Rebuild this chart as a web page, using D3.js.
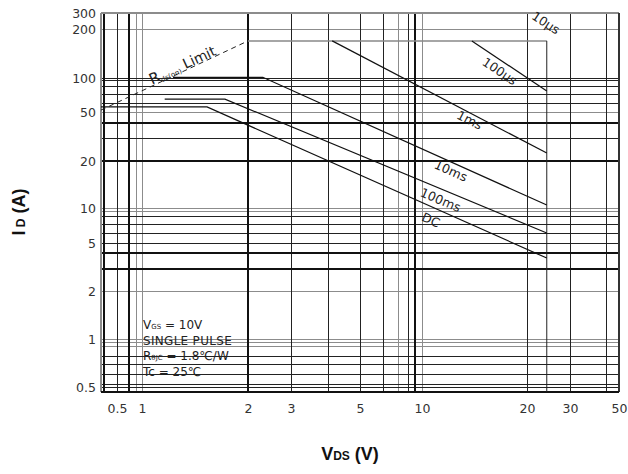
<!DOCTYPE html>
<html>
<head>
<meta charset="utf-8">
<script src="https://cdn.jsdelivr.net/npm/d3@7"></script>
<style>
  body { margin: 0; background: #fff; }
  svg text { font-family: "DejaVu Sans", sans-serif; }
</style>
</head>
<body>
<div class="chart"></div>
<script>
// tick stops of the scanned SOA chart (the scan's log spacing is stretched)
var xTicks = [0.5, 1, 2, 3, 5, 10, 20, 30, 50];
var yTicks = [0.5, 1, 2, 5, 10, 20, 50, 100, 200, 300];

// grid lines, grouped by pen
var xGridHeavy = [0.34, 0.7, 2, 9.26];
var xGridThin = [0.5, 3, 3.95, 5, 6.47, 8.56, 20, 30, 44];
var xGridGrey = [0.87, 1, 7.65, 10];
var yGridHeavy = [40.7, 20, 4.13, 3.04];
var yGridThin = [100, 94.1, 84.9, 72.1, 60, 30.2, 8.53, 7.28, 6.09, 5, 0.782, 0.687, 0.603, 0.522, 0.5];
var yGridGrey = [200, 50, 10, 9.24, 2, 1, 0.944, 0.891];

// SOA boundaries, [VDS, ID]
var rdsLimit = [[0.31, 52], [2, 169]];
var pkgLimit = [[2, 169], [24.1, 169]];
var edgeLimit = [[24.1, 169], [24.1, 0.466]];
var us100 = [[13.9, 169], [24.1, 76.7]];
var ms1 = [[4.07, 169], [24.1, 23.2]];
var ms10 = [[1.225, 101], [2.3, 101], [24.1, 10.45]];
var ms100 = [[1.16, 65], [1.72, 65], [24.1, 6.1]];
var dc = [[0.31, 55.4], [1.53, 55.4], [24.1, 3.75]];

// curve labels: text, VDS, ID, angle
var curveLabels = [
  ["10μs", 23.9, 233, 33],
  ["100μs", 16.7, 110, 34],
  ["1ms", 13.7, 43, 27],
  ["10ms", 12.1, 17.3, 24],
  ["100ms", 11.3, 11.25, 23],
  ["DC", 10.6, 7.88, 24]
];

var svgWidth = 628;
var svgHeight = 474;

var svg = d3.select(".chart")
  .append("svg")
  .attr("width", svgWidth)
  .attr("height", svgHeight);

var x = d3.scaleLog()
  .domain([0.31, 0.5, 1, 2, 3, 5, 10, 20, 30, 50])
  .range([101, 117, 142, 248, 291, 360, 422, 527, 570, 619]);

var y = d3.scaleLog()
  .domain([0.466, 0.5, 1, 2, 5, 10, 20, 50, 100, 200, 300])
  .range([392, 387, 339, 291, 243, 208, 161, 112, 78, 29, 13]);

var x0 = x(0.31), x1 = x(50), yTop = y(300), yBot = y(0.466);

var grid = svg.append("g").attr("shape-rendering", "crispEdges");

function vLines(vals, color, w) {
  grid.selectAll(null)
    .data(vals)
    .enter()
    .append("line")
    .attr("x1", d => x(d)).attr("x2", d => x(d))
    .attr("y1", yTop).attr("y2", yBot)
    .attr("stroke", color)
    .attr("stroke-width", w);
}
function hLines(vals, color, w) {
  grid.selectAll(null)
    .data(vals)
    .enter()
    .append("line")
    .attr("y1", d => y(d)).attr("y2", d => y(d))
    .attr("x1", x0).attr("x2", x1)
    .attr("stroke", color)
    .attr("stroke-width", w);
}

vLines(xGridGrey, "#8c8c8c", 1);
hLines(yGridGrey, "#8c8c8c", 1);
vLines(xGridThin, "#222", 1);
hLines(yGridThin, "#222", 1);
vLines(xGridHeavy, "#111", 2);
hLines(yGridHeavy, "#111", 2);

// frame
grid.append("line").attr("x1", x0).attr("x2", x1).attr("y1", yTop).attr("y2", yTop)
  .attr("stroke", "#8c8c8c").attr("stroke-width", 1.5);
grid.append("line").attr("x1", x0).attr("x2", x0).attr("y1", yTop).attr("y2", yBot)
  .attr("stroke", "#8c8c8c").attr("stroke-width", 1.5);
grid.append("line").attr("x1", x1).attr("x2", x1).attr("y1", yTop).attr("y2", yBot)
  .attr("stroke", "#333").attr("stroke-width", 1.5);
grid.append("line").attr("x1", x0).attr("x2", x1).attr("y1", yBot).attr("y2", yBot)
  .attr("stroke", "#111").attr("stroke-width", 2);

var line = d3.line()
  .x(d => x(d[0]))
  .y(d => y(d[1]));

svg.append("path").datum(rdsLimit)
  .attr("d", line).attr("fill", "none")
  .attr("stroke", "#222").attr("stroke-width", 1)
  .attr("stroke-dasharray", "5,4");

svg.append("path").datum(pkgLimit)
  .attr("d", line).attr("fill", "none")
  .attr("stroke", "#888").attr("stroke-width", 1.5);

svg.append("path").datum(edgeLimit)
  .attr("d", line).attr("fill", "none")
  .attr("stroke", "#222").attr("stroke-width", 1);

[us100, ms1, ms10, ms100, dc].forEach(function(s) {
  svg.append("path").datum(s)
    .attr("d", line).attr("fill", "none")
    .attr("stroke", "#111").attr("stroke-width", 1.2);
});

// curve labels
svg.selectAll(".clabel")
  .data(curveLabels)
  .enter()
  .append("text")
  .attr("class", "clabel")
  .attr("transform", d => `translate(${x(d[1])}, ${y(d[2])}) rotate(${d[3]})`)
  .attr("text-anchor", "middle")
  .attr("dy", "0.35em")
  .attr("font-size", 12.5)
  .attr("fill", "#222")
  .text(d => d[0]);

// Rds(on) label
var rds = svg.append("text")
  .attr("transform", `translate(${x(1.3)}, ${y(121)}) rotate(-25)`)
  .attr("text-anchor", "middle")
  .attr("dy", "0.35em")
  .attr("fill", "#222");
rds.append("tspan").attr("font-size", 15).text("R");
rds.append("tspan").attr("font-size", 7).attr("dy", 2).text("ds(on)");
rds.append("tspan").attr("font-size", 14).attr("dy", -2).text(" Limit");

// axes
var leftAxis = d3.axisLeft(y).tickValues(yTicks).tickSize(0).tickPadding(0)
  .tickFormat(d3.format("~g"));
var bottomAxis = d3.axisBottom(x).tickValues(xTicks).tickSize(0).tickPadding(0)
  .tickFormat(d3.format("~g"));

svg.append("g")
  .attr("transform", "translate(96, 0)")
  .call(leftAxis)
  .call(g => g.select(".domain").remove())
  .selectAll("text")
  .attr("font-family", "DejaVu Sans")
  .attr("font-size", 12.5)
  .attr("fill", "#333");

svg.append("g")
  .attr("transform", "translate(0, 404)")
  .call(bottomAxis)
  .call(g => g.select(".domain").remove())
  .selectAll("text")
  .attr("font-family", "DejaVu Sans")
  .attr("font-size", 12.5)
  .attr("fill", "#333");

// test conditions
var notes = svg.append("g")
  .attr("transform", `translate(${x(1) + 1}, 0)`)
  .attr("font-size", 12)
  .attr("fill", "#222");
var n1 = notes.append("text").attr("y", 329);
n1.append("tspan").text("V");
n1.append("tspan").attr("font-size", 7).text("GS");
n1.append("tspan").text(" = 10V");
notes.append("text").attr("y", 345).attr("letter-spacing", 0.3).text("SINGLE PULSE");
var n3 = notes.append("text").attr("y", 360);
n3.append("tspan").text("R");
n3.append("tspan").attr("font-size", 7).text("θJC");
n3.append("tspan").text(" = 1.8℃/W");
notes.append("text").attr("y", 376).text("Tc = 25℃");

// axis titles
var yt = svg.append("text")
  .attr("transform", "translate(25, 212) rotate(-90)")
  .attr("text-anchor", "middle")
  .style("font-family", "'Liberation Sans', Arial, sans-serif")
  .attr("font-weight", "bold")
  .attr("fill", "#111");
yt.append("tspan").attr("font-size", 18).text("I");
yt.append("tspan").attr("font-size", 12).text(" D");
yt.append("tspan").attr("font-size", 18).text(" (A)");

var xt = svg.append("text")
  .attr("x", 350)
  .attr("y", 460)
  .attr("text-anchor", "middle")
  .style("font-family", "'Liberation Sans', Arial, sans-serif")
  .attr("font-weight", "bold")
  .attr("fill", "#111");
xt.append("tspan").attr("font-size", 18).text("V");
xt.append("tspan").attr("font-size", 12).text("DS");
xt.append("tspan").attr("font-size", 18).text(" (V)");
</script>
</body>
</html>
